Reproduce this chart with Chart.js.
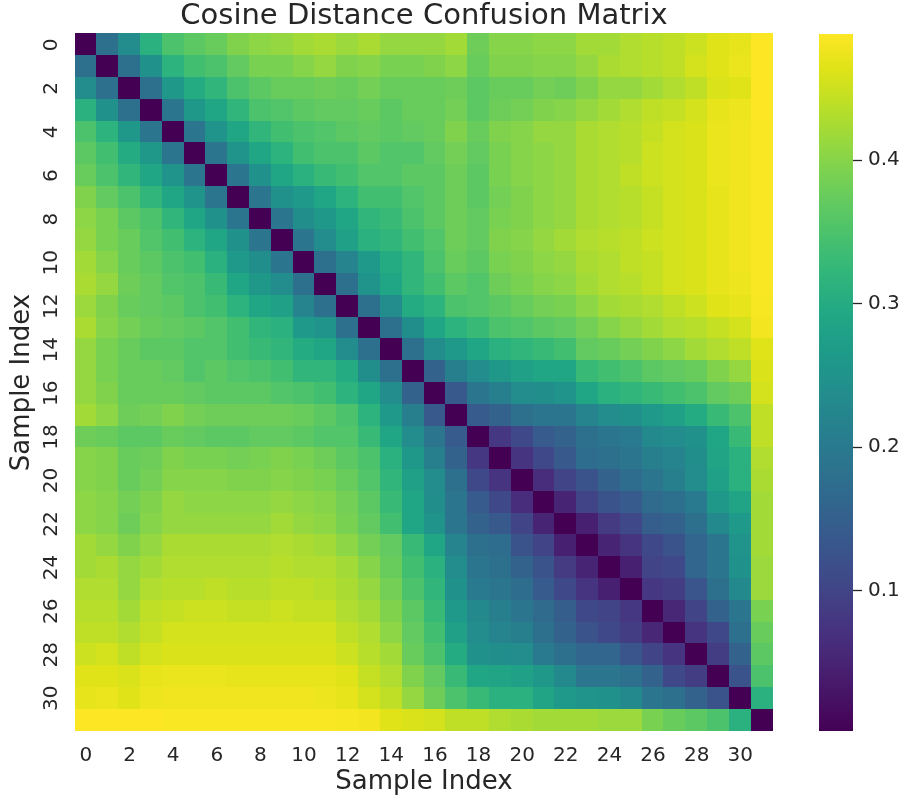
<!DOCTYPE html>
<html>
<head>
<meta charset="utf-8">
<title>Cosine Distance Confusion Matrix</title>
<script src="https://cdn.jsdelivr.net/npm/chart.js@4.4.1/dist/chart.umd.min.js"></script>
<style>
  html, body { margin: 0; padding: 0; background: #ffffff; }
  #wrap { position: relative; width: 904px; height: 799px; }
  #heatmap { position: absolute; left: 0; top: 0; }
  #colorbar { position: absolute; left: 800px; top: 0; }
</style>
</head>
<body>
<div id="wrap">
  <canvas id="heatmap" width="904" height="799"></canvas>
  <canvas id="colorbar" width="104" height="799"></canvas>
</div>
<script>
// sample indices (rows / columns)
const sampleIndex = [0, 1, 2, 3, 4, 5, 6, 7, 8, 9, 10, 11, 12, 13, 14, 15,
                     16, 17, 18, 19, 20, 21, 22, 23, 24, 25, 26, 27, 28, 29, 30, 31];

// tick labels shown on both axes
const axisTicks = [0, 2, 4, 6, 8, 10, 12, 14, 16, 18, 20, 22, 24, 26, 28, 30];

// colour bar ticks and range
const colorbarTicks = [0.1, 0.2, 0.3, 0.4];
const colorMin = 0.002;
const colorMax = 0.488;

// cosine distances, one row per sample
const distances = [
  [0, 0.18, 0.235, 0.31, 0.35, 0.365, 0.375, 0.395, 0.405, 0.41, 0.42, 0.425, 0.415, 0.425, 0.41, 0.41, 0.41, 0.42, 0.38, 0.40, 0.40, 0.405, 0.405, 0.42, 0.42, 0.43, 0.435, 0.44, 0.45, 0.465, 0.47, 0.488],
  [0.18, 0, 0.18, 0.245, 0.315, 0.34, 0.35, 0.37, 0.39, 0.39, 0.40, 0.41, 0.395, 0.40, 0.39, 0.39, 0.395, 0.405, 0.375, 0.395, 0.395, 0.40, 0.40, 0.41, 0.425, 0.43, 0.435, 0.44, 0.455, 0.465, 0.473, 0.488],
  [0.235, 0.18, 0, 0.18, 0.26, 0.30, 0.32, 0.35, 0.365, 0.375, 0.375, 0.38, 0.375, 0.385, 0.375, 0.375, 0.375, 0.38, 0.365, 0.375, 0.375, 0.385, 0.38, 0.395, 0.41, 0.41, 0.42, 0.43, 0.44, 0.46, 0.465, 0.488],
  [0.31, 0.245, 0.18, 0, 0.19, 0.26, 0.29, 0.32, 0.35, 0.355, 0.365, 0.37, 0.37, 0.375, 0.365, 0.375, 0.375, 0.385, 0.365, 0.38, 0.385, 0.395, 0.40, 0.41, 0.42, 0.43, 0.44, 0.445, 0.455, 0.47, 0.475, 0.488],
  [0.35, 0.315, 0.26, 0.19, 0, 0.19, 0.25, 0.29, 0.32, 0.34, 0.35, 0.355, 0.365, 0.37, 0.365, 0.37, 0.375, 0.395, 0.375, 0.395, 0.40, 0.41, 0.41, 0.425, 0.43, 0.435, 0.445, 0.455, 0.46, 0.473, 0.478, 0.485],
  [0.365, 0.34, 0.30, 0.26, 0.19, 0, 0.19, 0.25, 0.29, 0.315, 0.34, 0.35, 0.35, 0.365, 0.355, 0.355, 0.37, 0.385, 0.37, 0.39, 0.40, 0.405, 0.41, 0.425, 0.43, 0.435, 0.45, 0.455, 0.46, 0.473, 0.478, 0.485],
  [0.375, 0.35, 0.32, 0.29, 0.25, 0.19, 0, 0.19, 0.245, 0.29, 0.31, 0.33, 0.34, 0.355, 0.355, 0.365, 0.365, 0.38, 0.365, 0.39, 0.40, 0.405, 0.41, 0.425, 0.43, 0.44, 0.45, 0.455, 0.46, 0.473, 0.478, 0.485],
  [0.395, 0.37, 0.35, 0.32, 0.29, 0.25, 0.19, 0, 0.19, 0.245, 0.265, 0.29, 0.315, 0.34, 0.34, 0.355, 0.365, 0.38, 0.365, 0.385, 0.395, 0.405, 0.41, 0.425, 0.43, 0.435, 0.445, 0.455, 0.46, 0.47, 0.478, 0.485],
  [0.405, 0.39, 0.365, 0.35, 0.32, 0.29, 0.245, 0.19, 0, 0.19, 0.24, 0.26, 0.29, 0.32, 0.33, 0.35, 0.365, 0.38, 0.37, 0.39, 0.395, 0.405, 0.41, 0.425, 0.43, 0.435, 0.445, 0.455, 0.46, 0.47, 0.478, 0.485],
  [0.41, 0.39, 0.375, 0.355, 0.34, 0.315, 0.29, 0.245, 0.19, 0, 0.19, 0.235, 0.28, 0.31, 0.32, 0.34, 0.355, 0.38, 0.37, 0.395, 0.40, 0.41, 0.42, 0.43, 0.435, 0.44, 0.45, 0.455, 0.46, 0.47, 0.478, 0.485],
  [0.42, 0.40, 0.375, 0.365, 0.35, 0.34, 0.31, 0.265, 0.24, 0.19, 0, 0.18, 0.22, 0.265, 0.30, 0.32, 0.35, 0.375, 0.365, 0.39, 0.395, 0.405, 0.41, 0.425, 0.43, 0.44, 0.445, 0.455, 0.46, 0.47, 0.478, 0.485],
  [0.425, 0.41, 0.38, 0.37, 0.355, 0.35, 0.33, 0.29, 0.26, 0.235, 0.18, 0, 0.18, 0.25, 0.29, 0.32, 0.34, 0.365, 0.355, 0.38, 0.39, 0.40, 0.405, 0.42, 0.43, 0.435, 0.445, 0.455, 0.46, 0.47, 0.475, 0.485],
  [0.415, 0.395, 0.375, 0.37, 0.365, 0.35, 0.34, 0.315, 0.29, 0.28, 0.22, 0.18, 0, 0.18, 0.235, 0.30, 0.315, 0.35, 0.355, 0.365, 0.375, 0.385, 0.39, 0.405, 0.42, 0.425, 0.43, 0.44, 0.45, 0.465, 0.47, 0.483],
  [0.425, 0.40, 0.385, 0.375, 0.37, 0.365, 0.355, 0.34, 0.32, 0.31, 0.265, 0.25, 0.18, 0, 0.18, 0.24, 0.29, 0.315, 0.33, 0.35, 0.355, 0.365, 0.37, 0.385, 0.40, 0.41, 0.42, 0.43, 0.435, 0.445, 0.455, 0.48],
  [0.41, 0.39, 0.375, 0.365, 0.365, 0.355, 0.355, 0.34, 0.33, 0.32, 0.30, 0.29, 0.235, 0.18, 0, 0.18, 0.235, 0.265, 0.29, 0.31, 0.32, 0.33, 0.34, 0.37, 0.375, 0.385, 0.395, 0.405, 0.42, 0.43, 0.44, 0.465],
  [0.41, 0.39, 0.375, 0.375, 0.37, 0.355, 0.365, 0.355, 0.35, 0.34, 0.32, 0.32, 0.30, 0.24, 0.18, 0, 0.155, 0.21, 0.235, 0.26, 0.28, 0.29, 0.29, 0.33, 0.34, 0.35, 0.365, 0.37, 0.375, 0.395, 0.41, 0.46],
  [0.41, 0.395, 0.375, 0.375, 0.375, 0.37, 0.365, 0.365, 0.365, 0.355, 0.35, 0.34, 0.315, 0.29, 0.235, 0.155, 0, 0.137, 0.19, 0.21, 0.235, 0.24, 0.25, 0.29, 0.31, 0.32, 0.33, 0.34, 0.35, 0.37, 0.38, 0.455],
  [0.42, 0.405, 0.38, 0.385, 0.395, 0.385, 0.38, 0.38, 0.38, 0.38, 0.375, 0.365, 0.35, 0.315, 0.265, 0.21, 0.137, 0, 0.14, 0.155, 0.18, 0.19, 0.19, 0.22, 0.235, 0.245, 0.265, 0.28, 0.30, 0.33, 0.35, 0.44],
  [0.38, 0.375, 0.365, 0.365, 0.375, 0.37, 0.365, 0.365, 0.37, 0.37, 0.365, 0.355, 0.355, 0.33, 0.29, 0.235, 0.19, 0.14, 0, 0.08, 0.107, 0.14, 0.155, 0.18, 0.19, 0.20, 0.23, 0.235, 0.245, 0.29, 0.33, 0.44],
  [0.40, 0.395, 0.375, 0.38, 0.395, 0.39, 0.39, 0.385, 0.39, 0.395, 0.39, 0.38, 0.365, 0.35, 0.31, 0.26, 0.21, 0.155, 0.08, 0, 0.075, 0.107, 0.137, 0.175, 0.18, 0.19, 0.21, 0.22, 0.24, 0.285, 0.31, 0.43],
  [0.40, 0.395, 0.375, 0.385, 0.40, 0.40, 0.40, 0.395, 0.395, 0.40, 0.395, 0.39, 0.375, 0.355, 0.32, 0.28, 0.235, 0.18, 0.107, 0.075, 0, 0.065, 0.10, 0.125, 0.155, 0.175, 0.19, 0.21, 0.235, 0.28, 0.31, 0.425],
  [0.405, 0.40, 0.385, 0.395, 0.41, 0.405, 0.405, 0.405, 0.405, 0.41, 0.405, 0.40, 0.385, 0.365, 0.33, 0.29, 0.24, 0.19, 0.14, 0.107, 0.065, 0, 0.05, 0.10, 0.125, 0.14, 0.17, 0.18, 0.20, 0.26, 0.285, 0.42],
  [0.405, 0.40, 0.38, 0.40, 0.41, 0.41, 0.41, 0.41, 0.41, 0.42, 0.41, 0.405, 0.39, 0.37, 0.34, 0.29, 0.25, 0.19, 0.155, 0.137, 0.10, 0.05, 0, 0.045, 0.085, 0.107, 0.145, 0.155, 0.18, 0.23, 0.265, 0.42],
  [0.42, 0.41, 0.395, 0.41, 0.425, 0.425, 0.425, 0.425, 0.425, 0.43, 0.425, 0.42, 0.405, 0.385, 0.37, 0.33, 0.29, 0.22, 0.18, 0.175, 0.125, 0.10, 0.045, 0, 0.05, 0.075, 0.107, 0.125, 0.16, 0.19, 0.25, 0.42],
  [0.42, 0.425, 0.41, 0.42, 0.43, 0.43, 0.43, 0.43, 0.43, 0.435, 0.43, 0.43, 0.42, 0.40, 0.375, 0.34, 0.31, 0.235, 0.19, 0.18, 0.155, 0.125, 0.085, 0.05, 0, 0.045, 0.10, 0.107, 0.16, 0.19, 0.245, 0.415],
  [0.43, 0.43, 0.41, 0.43, 0.435, 0.435, 0.44, 0.435, 0.435, 0.44, 0.44, 0.435, 0.425, 0.41, 0.385, 0.35, 0.32, 0.245, 0.20, 0.19, 0.175, 0.14, 0.107, 0.075, 0.045, 0, 0.08, 0.09, 0.13, 0.18, 0.23, 0.415],
  [0.435, 0.435, 0.42, 0.44, 0.445, 0.45, 0.45, 0.445, 0.445, 0.45, 0.445, 0.445, 0.43, 0.42, 0.395, 0.365, 0.33, 0.265, 0.23, 0.21, 0.19, 0.17, 0.145, 0.107, 0.10, 0.08, 0, 0.055, 0.10, 0.155, 0.19, 0.39],
  [0.44, 0.44, 0.43, 0.445, 0.455, 0.455, 0.455, 0.455, 0.455, 0.455, 0.455, 0.455, 0.44, 0.43, 0.405, 0.37, 0.34, 0.28, 0.235, 0.22, 0.21, 0.18, 0.155, 0.125, 0.107, 0.09, 0.055, 0, 0.075, 0.107, 0.18, 0.375],
  [0.45, 0.455, 0.44, 0.455, 0.46, 0.46, 0.46, 0.46, 0.46, 0.46, 0.46, 0.46, 0.45, 0.435, 0.42, 0.375, 0.35, 0.30, 0.245, 0.24, 0.235, 0.20, 0.18, 0.16, 0.16, 0.13, 0.10, 0.075, 0, 0.088, 0.155, 0.365],
  [0.465, 0.465, 0.46, 0.47, 0.473, 0.473, 0.473, 0.47, 0.47, 0.47, 0.47, 0.47, 0.465, 0.445, 0.43, 0.395, 0.37, 0.33, 0.29, 0.285, 0.28, 0.26, 0.23, 0.19, 0.19, 0.18, 0.155, 0.107, 0.088, 0, 0.125, 0.35],
  [0.47, 0.473, 0.465, 0.475, 0.478, 0.478, 0.478, 0.478, 0.478, 0.478, 0.478, 0.475, 0.47, 0.455, 0.44, 0.41, 0.38, 0.35, 0.33, 0.31, 0.31, 0.285, 0.265, 0.25, 0.245, 0.23, 0.19, 0.18, 0.155, 0.125, 0, 0.31],
  [0.488, 0.488, 0.488, 0.488, 0.485, 0.485, 0.485, 0.485, 0.485, 0.485, 0.485, 0.485, 0.483, 0.48, 0.465, 0.46, 0.455, 0.44, 0.44, 0.43, 0.425, 0.42, 0.42, 0.42, 0.415, 0.415, 0.39, 0.375, 0.365, 0.35, 0.31, 0]
];

// viridis colour map stops
const viridisStops = ['#440154', '#471365', '#482475', '#463480', '#414487', '#3b528b', '#355f8d',
  '#2f6c8e', '#2a788e', '#25848e', '#21918c', '#1e9c89', '#22a884', '#2fb47c', '#44bf70',
  '#5ec962', '#7ad151', '#9bd93c', '#bddf26', '#dfe318', '#fde725'];

const textColor = '#262626';
Chart.defaults.font.family = "'DejaVu Sans', sans-serif";
Chart.defaults.color = textColor;

function hexToRgb(h) {
    return [parseInt(h.substr(1, 2), 16), parseInt(h.substr(3, 2), 16), parseInt(h.substr(5, 2), 16)];
}

function viridis(v) {
    let t = (v - colorMin) / (colorMax - colorMin);
    t = Math.max(0, Math.min(1, t));
    const pos = t * (viridisStops.length - 1);
    const i = Math.min(Math.floor(pos), viridisStops.length - 2);
    const f = pos - i;
    const a = hexToRgb(viridisStops[i]);
    const b = hexToRgb(viridisStops[i + 1]);
    const c = a.map((x, k) => Math.round(x + (b[k] - x) * f));
    return 'rgb(' + c[0] + ',' + c[1] + ',' + c[2] + ')';
}

// one point per cell, drawn as a square by the plugin below
const cells = [];
sampleIndex.forEach(function (row) {
    sampleIndex.forEach(function (col) {
        cells.push({ x: col, y: row, v: distances[row][col] });
    });
});

// draws each cell as a rectangle through the chart's own scales
const heatmapCells = {
    id: 'heatmapCells',
    beforeDatasetsDraw(chart) {
        const ctx = chart.ctx;
        const xs = chart.scales.x;
        const ys = chart.scales.y;
        ctx.save();
        chart.data.datasets[0].data.forEach(function (d) {
            const xa = xs.getPixelForValue(d.x - 0.5);
            const xb = xs.getPixelForValue(d.x + 0.5);
            const ya = ys.getPixelForValue(d.y - 0.5);
            const yb = ys.getPixelForValue(d.y + 0.5);
            const left = Math.floor(Math.min(xa, xb));
            const right = Math.ceil(Math.max(xa, xb));
            const top = Math.floor(Math.min(ya, yb));
            const bottom = Math.ceil(Math.max(ya, yb));
            ctx.fillStyle = viridis(d.v);
            ctx.fillRect(left, top, right - left, bottom - top);
        });
        ctx.restore();
    }
};

function setIndexTicks(scale) {
    scale.ticks = axisTicks.map(v => ({ value: v }));
}

new Chart(document.getElementById('heatmap'), {
    type: 'scatter',
    data: {
        datasets: [{
            data: cells,
            pointRadius: 0,
            pointHoverRadius: 0
        }]
    },
    options: {
        responsive: false,
        animation: false,
        events: [],
        layout: { padding: { left: 0, right: 131, top: 0, bottom: 0 } },
        plugins: {
            legend: { display: false },
            tooltip: { enabled: false },
            title: {
                display: true,
                text: 'Cosine Distance Confusion Matrix',
                fullSize: false,
                color: textColor,
                font: { size: 29, weight: 'normal', lineHeight: 1.17 },
                padding: { top: 0, bottom: 0 }
            }
        },
        scales: {
            x: {
                type: 'linear',
                min: -0.5,
                max: 31.5,
                afterBuildTicks: setIndexTicks,
                afterFit: s => { s.height = 68; },
                grid: { display: false },
                border: { display: false },
                ticks: { font: { size: 20 }, color: textColor, padding: 5, maxRotation: 0 },
                title: {
                    display: true,
                    text: 'Sample Index',
                    color: textColor,
                    font: { size: 26 },
                    padding: { top: 0, bottom: 1 }
                }
            },
            y: {
                type: 'linear',
                reverse: true,
                min: -0.5,
                max: 31.5,
                afterBuildTicks: setIndexTicks,
                afterFit: s => { s.width = 75; },
                grid: { display: false },
                border: { display: false },
                ticks: {
                    font: { size: 20 },
                    color: textColor,
                    padding: 2,
                    minRotation: 90,
                    maxRotation: 90,
                    crossAlign: 'center'
                },
                title: {
                    display: true,
                    text: 'Sample Index',
                    color: textColor,
                    font: { size: 26 },
                    padding: { top: 7, bottom: 0 }
                }
            }
        }
    },
    plugins: [heatmapCells]
});

// colour bar
new Chart(document.getElementById('colorbar'), {
    type: 'bar',
    data: {
        labels: ['distance'],
        datasets: [{
            data: [[colorMin, colorMax]],
            backgroundColor: function (context) {
                const area = context.chart.chartArea;
                if (!area) {
                    return viridisStops[10];
                }
                const g = context.chart.ctx.createLinearGradient(0, area.bottom, 0, area.top);
                viridisStops.forEach((c, i) => g.addColorStop(i / (viridisStops.length - 1), c));
                return g;
            },
            borderWidth: 0,
            barPercentage: 1,
            categoryPercentage: 1
        }]
    },
    options: {
        responsive: false,
        animation: false,
        events: [],
        layout: { padding: { left: 19, right: 0, top: 34, bottom: 68 } },
        plugins: {
            legend: { display: false },
            tooltip: { enabled: false }
        },
        scales: {
            x: { display: false },
            y: {
                position: 'right',
                min: colorMin,
                max: colorMax,
                afterBuildTicks: s => { s.ticks = colorbarTicks.map(v => ({ value: v })); },
                afterFit: s => { s.width = 51; },
                border: { display: false },
                grid: {
                    drawOnChartArea: false,
                    drawTicks: true,
                    tickLength: 9,
                    tickWidth: 1.3,
                    tickColor: textColor
                },
                ticks: {
                    font: { size: 20 },
                    color: textColor,
                    padding: 6,
                    callback: v => v.toFixed(1)
                }
            }
        }
    }
});
</script>
</body>
</html>
